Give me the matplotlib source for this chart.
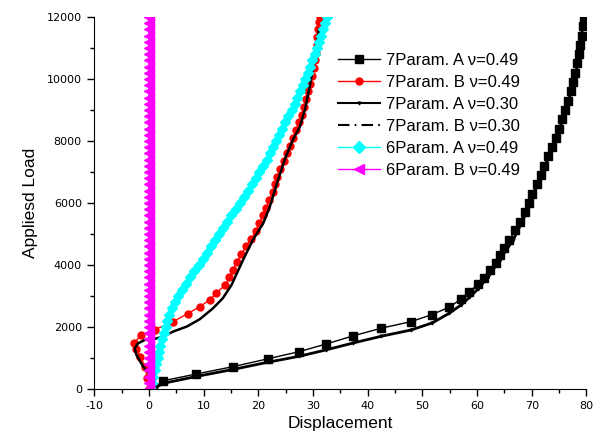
import matplotlib.pyplot as plt
from matplotlib.lines import Line2D
from matplotlib.ticker import MultipleLocator

plt.rcParams['font.family'] = ['Liberation Sans', 'DejaVu Sans']
plt.rcParams['axes.unicode_minus'] = False

# 7Param. A nu=0.49 (black squares)
a49_x = [0.8, 2.5, 8.6, 15.4, 21.7, 27.4, 32.4, 37.3, 42.5, 47.9, 51.8, 54.9, 57.0,
         58.6, 60.2, 61.2, 62.3, 63.4, 64.2, 65.0, 65.9, 67.0, 67.9, 68.7, 69.4,
         70.1, 70.9, 71.6, 72.3, 73.0, 73.7, 74.4, 75.0, 75.6, 76.1, 76.6, 77.1,
         77.5, 77.9, 78.3, 78.6, 78.9, 79.1, 79.3, 79.5]
a49_y = [0, 260, 480, 720, 970, 1200, 1450, 1710, 1960, 2170, 2400, 2640, 2890,
         3140, 3380, 3590, 3840, 4075, 4320, 4560, 4800, 5130, 5400, 5700, 6000,
         6300, 6600, 6900, 7200, 7500, 7800, 8100, 8400, 8700, 9000, 9300, 9600,
         9900, 10200, 10500, 10800, 11100, 11400, 11700, 12000]

# 7Param. B nu=0.49 (red dots)
b49_x = [0.0, -0.3, -0.75, -1.55, -2.3, -2.7, -1.5, 1.06, 4.4, 7.1, 9.3, 11.1, 12.3,
         13.9, 14.7, 15.4, 16.1, 16.9, 17.8, 18.7, 19.6, 20.2, 20.8, 21.4, 22.0,
         22.6, 23.1, 23.5, 24.0, 24.6, 25.2, 25.8, 26.3, 26.9, 27.4, 27.9, 28.3,
         28.7, 29.1, 29.4, 29.8, 30.1, 30.3, 30.5, 30.7, 30.8, 30.9, 31.1, 31.2]
b49_y = [0, 350, 720, 1040, 1300, 1470, 1740, 1910, 2170, 2430, 2655, 2870, 3090,
         3350, 3600, 3850, 4100, 4350, 4600, 4850, 5100, 5350, 5600, 5850, 6100,
         6350, 6600, 6850, 7100, 7350, 7600, 7850, 8100, 8350, 8600, 8850, 9100,
         9350, 9600, 9850, 10100, 10350, 10600, 10850, 11100, 11350, 11600, 11850, 12000]

# 7Param. A nu=0.30 (solid black)
a30_x = [0.8, 2.6, 8.6, 15.4, 21.7, 27.4, 32.4, 37.3, 42.5, 47.9, 51.8, 54.9, 57.0,
         58.6, 60.2, 62.0, 64.1, 66.6, 69.0, 71.4, 73.9, 76.3, 77.8, 78.8, 79.4, 79.6]
a30_y = [0, 180, 400, 630, 860, 1050, 1260, 1480, 1700, 1900, 2130, 2440, 2700,
         2950, 3230, 3600, 4160, 4800, 5670, 6740, 7820, 9000, 9970, 10830, 11900, 12000]

# 7Param. B nu=0.30 (dash-dot black)
b30_x = [0.2, 0.5, -1.07, -2.3, -2.6, -2.0, -0.77, 0.75, 2.6, 4.4, 6.9, 9.3, 11.7,
         13.5, 15.1, 17.2, 19.0, 20.9, 22.1, 23.6, 24.8, 26.3, 27.6, 28.5, 29.4,
         30.0, 30.5, 30.9, 31.1]
b30_y = [0, 400, 720, 1100, 1310, 1470, 1580, 1600, 1690, 1850, 2010, 2250, 2600,
         2925, 3355, 4160, 4806, 5345, 5880, 6742, 7387, 8032, 8460, 9000, 9750,
         10400, 10935, 11365, 11600]

# 6Param. A nu=0.49 (cyan diamonds)
c49_x = [0.30, 0.56, 0.82, 1.07, 1.33, 1.58, 1.83, 2.08, 2.33, 2.68, 3.03, 3.38,
         3.73, 4.24, 4.80, 5.36, 6.02, 6.77, 7.54, 8.32, 9.09, 9.84, 10.59, 11.33,
         12.06, 12.78, 13.49, 14.20, 15.02, 15.83, 16.64, 17.38, 18.13, 18.87,
         19.55, 20.21, 20.88, 21.54, 22.09, 22.65, 23.20, 23.76, 24.34, 24.92,
         25.51, 26.09, 26.63, 27.13, 27.62, 28.12, 28.61, 29.06, 29.48, 29.90,
         30.32, 30.72, 31.09, 31.47, 31.84, 32.21, 32.60]
c49_y = [0, 200, 400, 600, 800, 1000, 1200, 1400, 1600, 1800, 2000, 2200, 2400,
         2600, 2800, 3000, 3200, 3400, 3600, 3800, 4000, 4200, 4400, 4600, 4800,
         5000, 5200, 5400, 5600, 5800, 6000, 6200, 6400, 6600, 6800, 7000, 7200,
         7400, 7600, 7800, 8000, 8200, 8400, 8600, 8800, 9000, 9200, 9400, 9600,
         9800, 10000, 10200, 10400, 10600, 10800, 11000, 11200, 11400, 11600,
         11800, 12000]

# 6Param. B nu=0.49 (magenta triangles)
m49_y = [0, 200, 400, 600, 800, 1000, 1200, 1400, 1600, 1800, 2000, 2200, 2400,
         2600, 2800, 3000, 3200, 3400, 3600, 3800, 4000, 4200, 4400, 4600, 4800,
         5000, 5200, 5400, 5600, 5800, 6000, 6200, 6400, 6600, 6800, 7000, 7200,
         7400, 7600, 7800, 8000, 8200, 8400, 8600, 8800, 9000, 9200, 9400, 9600,
         9800, 10000, 10200, 10400, 10600, 10800, 11000, 11200, 11400, 11600,
         11800, 12000]
m49_x = [0.0] * len(m49_y)

labels = ['7Param. A \u03bd=0.49', '7Param. B \u03bd=0.49', '7Param. A \u03bd=0.30',
          '7Param. B \u03bd=0.30', '6Param. A \u03bd=0.49', '6Param. B \u03bd=0.49']

fig = plt.figure(figsize=(5.93, 4.45), dpi=100)
ax = fig.add_axes([0.159, 0.126, 0.830, 0.836])

ax.plot(a49_x, a49_y, color='black', lw=1, marker='s', ms=5.5)
ax.plot(b49_x, b49_y, color='red', lw=1, marker='o', ms=5)
ax.plot(a30_x, a30_y, color='black', lw=2, marker='v', ms=2)
ax.plot(b30_x, b30_y, color='black', lw=1.8)
ax.plot(c49_x, c49_y, color='cyan', lw=1, marker='D', ms=5.5)
ax.plot(m49_x, m49_y, color='magenta', lw=2, marker='<', ms=7.5)

handles = [
    Line2D([], [], color='black', lw=1, marker='s', ms=5.5),
    Line2D([], [], color='red', lw=1, marker='o', ms=5),
    Line2D([], [], color='black', lw=1.5, marker='v', ms=2),
    Line2D([], [], color='black', lw=1.5, linestyle=(0, (5.5, 2.5, 0.8, 2.5))),
    Line2D([], [], color='cyan', lw=1, marker='D', ms=6),
    Line2D([], [], color='magenta', lw=1, marker='<', ms=7),
]
ax.legend(handles, labels, loc='upper left', bbox_to_anchor=(0.570, 0.881),
          bbox_transform=fig.transFigure, frameon=False, fontsize=12,
          handlelength=2.5, handletextpad=0.35, labelspacing=0.42,
          borderpad=0, borderaxespad=0, numpoints=1)

ax.set_xlim(-10, 80)
ax.set_ylim(0, 12000)
ax.xaxis.set_major_locator(MultipleLocator(10))
ax.xaxis.set_minor_locator(MultipleLocator(5))
ax.yaxis.set_major_locator(MultipleLocator(2000))
ax.yaxis.set_minor_locator(MultipleLocator(1000))
ax.tick_params(which='major', direction='out', length=5, width=1, pad=4)
ax.tick_params(which='minor', direction='out', length=3, width=1)
for lab in ax.get_xticklabels() + ax.get_yticklabels():
    lab.set_family('DejaVu Sans')
    lab.set_fontsize(8)

ax.spines['top'].set_visible(False)
ax.spines['right'].set_visible(False)

ax.set_xlabel('Displacement', fontsize=12.5, labelpad=3)
ax.set_ylabel('Appliesd Load', fontsize=12.5, labelpad=6)

fig.savefig('out.png', dpi=100)
